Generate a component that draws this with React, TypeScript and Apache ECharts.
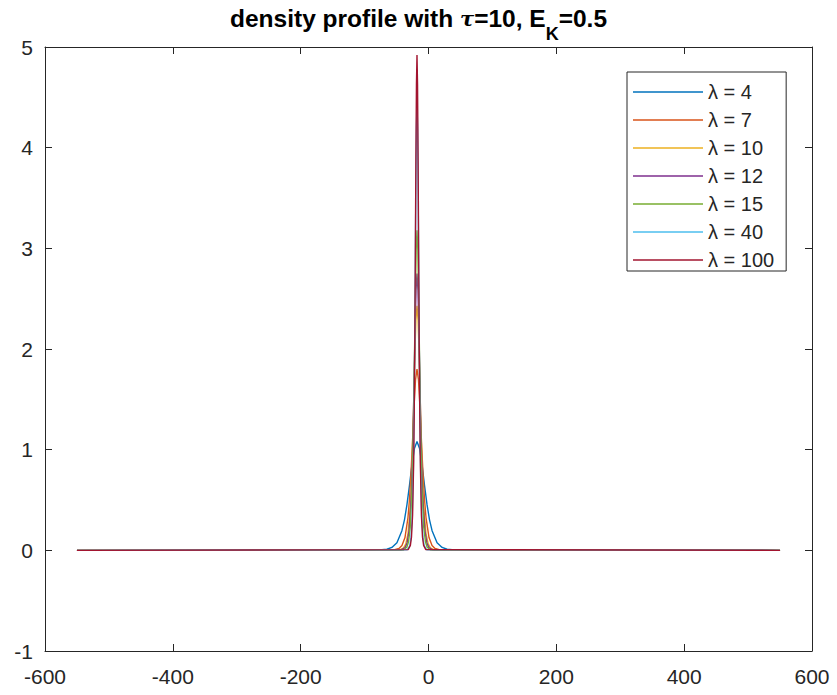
import React, { useEffect, useRef } from 'react';
import * as echarts from 'echarts';

const lambdas = ['4', '7', '10', '12', '15', '40', '100'];
const colors = ['#0072BD', '#D95319', '#EDB120', '#7E2F8E', '#77AC30', '#4DBEEE', '#A2142F'];

const xTicks = { min: -600, max: 600, interval: 200 };
const yTicks = { min: -1, max: 5, interval: 1 };

const x4 = [-550, -80.8, -65.1, -57.3, -49.4, -41.6, -37.6, -33.7, -29.8, -25.9, -21.9, -18, -14.1, -10.1, -6.2, -2.3, 1.6, 5.6, 13.4, 21.3, 29.1, 44.8, 550];
const y4 = [0, 0.001, 0.011, 0.029, 0.076, 0.195, 0.303, 0.454, 0.644, 0.849, 1.015, 1.08, 1.015, 0.849, 0.644, 0.454, 0.303, 0.195, 0.076, 0.029, 0.011, 0.001, 0];

const x7 = [-550, -55.6, -46.2, -41.5, -36.8, -32.1, -29.75, -27.4, -25.05, -22.7, -20.35, -18, -15.65, -13.3, -10.95, -8.6, -6.25, -3.9, 0.8, 5.5, 10.2, 19.6, 550];
const y7 = [0, 0.002, 0.018, 0.048, 0.127, 0.325, 0.505, 0.756, 1.074, 1.416, 1.692, 1.8, 1.692, 1.416, 1.074, 0.756, 0.505, 0.325, 0.127, 0.048, 0.018, 0.002, 0];

const x10 = [-550, -46, -39, -35.5, -32, -28.5, -26.75, -25, -23.25, -21.5, -19.75, -18, -16.25, -14.5, -12.75, -11, -9.25, -7.5, -4, -0.5, 3, 10, 550];
const y10 = [0, 0.003, 0.024, 0.065, 0.172, 0.439, 0.681, 1.021, 1.45, 1.911, 2.284, 2.43, 2.284, 1.911, 1.45, 1.021, 0.681, 0.439, 0.172, 0.065, 0.024, 0.003, 0];

const x12 = [-550, -42.8, -36.6, -33.5, -30.4, -27.3, -25.75, -24.2, -22.65, -21.1, -19.55, -18, -16.45, -14.9, -13.35, -11.8, -10.25, -8.7, -5.6, -2.5, 0.6, 6.8, 550];
const y12 = [0, 0.004, 0.027, 0.073, 0.194, 0.497, 0.771, 1.155, 1.641, 2.163, 2.585, 2.75, 2.585, 2.163, 1.641, 1.155, 0.771, 0.497, 0.194, 0.073, 0.027, 0.004, 0];

const x15 = [-550, -39.2, -33.9, -31.25, -28.6, -25.95, -24.6, -23.3, -22.0, -20.65, -19.3, -18, -16.7, -15.35, -14.0, -12.7, -11.4, -10.05, -7.4, -4.75, -2.1, 3.2, 550];
const y15 = [0, 0.004, 0.031, 0.085, 0.225, 0.575, 0.892, 1.336, 1.897, 2.501, 2.989, 3.18, 2.989, 2.501, 1.897, 1.336, 0.892, 0.575, 0.225, 0.085, 0.031, 0.004, 0];

const x40 = [-550, -33.2, -29.4, -27.5, -25.6, -23.7, -22.75, -21.8, -20.85, -19.9, -18.95, -18, -17.05, -16.1, -15.15, -14.2, -13.25, -12.3, -10.4, -8.5, -6.6, -2.8, 550];
const y40 = [0, 0.006, 0.044, 0.118, 0.315, 0.804, 1.248, 1.869, 2.655, 3.499, 4.183, 4.45, 4.183, 3.499, 2.655, 1.869, 1.248, 0.804, 0.315, 0.118, 0.044, 0.006, 0];

const x100 = [-550, -31.8, -28.35, -26.63, -24.9, -23.18, -22.31, -21.45, -20.59, -19.73, -18.86, -18, -17.14, -16.27, -15.41, -14.55, -13.69, -12.82, -11.1, -9.37, -7.65, -4.2, 550];
const y100 = [0, 0.007, 0.049, 0.131, 0.348, 0.889, 1.38, 2.066, 2.935, 3.869, 4.625, 4.92, 4.625, 3.869, 2.935, 2.066, 1.38, 0.889, 0.348, 0.131, 0.049, 0.007, 0];

const seriesX = [x4, x7, x10, x12, x15, x40, x100];
const seriesY = [y4, y7, y10, y12, y15, y40, y100];

const AX = '#262626';

export default function App() {
  const ref = useRef<HTMLDivElement>(null);
  useEffect(() => {
    if (!ref.current) return;
    const chart = echarts.init(ref.current, undefined, { renderer: 'svg' });
    const names = lambdas.map((l) => `λ = ${l}`);
    const axisCommon = {
      type: 'value' as const,
      axisLine: { show: true, onZero: false, lineStyle: { color: AX, width: 1 } },
      axisTick: { show: true, inside: true, length: 7, lineStyle: { color: AX, width: 1 } },
      splitLine: { show: false },
    };
    chart.setOption({
      animation: false,
      backgroundColor: '#ffffff',
      title: {
        text: '{a|density profile with }{t|τ}{a|=10, E}{s|K}{a|=0.5}',
        left: 'center',
        top: 1,
        textStyle: {
          rich: {
            a: { fontSize: 24.5, fontWeight: 'bold', fontFamily: 'Liberation Sans', color: '#000', padding: [0, 0, 15, 0] },
            t: { fontSize: 21, fontStyle: 'italic', fontFamily: 'DejaVu Serif', color: '#000', padding: [0, 0, 15, 0] },
            s: { fontSize: 18, fontWeight: 'bold', fontFamily: 'Liberation Sans', color: '#000', padding: [15, 0, 0, 0] },
          },
        },
      },
      grid: { left: 45, right: 25, top: 47, bottom: 44, containLabel: false },
      legend: {
        data: names,
        orient: 'vertical',
        left: 627,
        top: 72,
        icon: 'rect',
        itemWidth: 70,
        itemHeight: 1.5,
        itemGap: 8,
        padding: [10, 12, 1, 6],
        borderColor: AX,
        borderWidth: 1,
        backgroundColor: '#ffffff',
        textStyle: { fontSize: 20, color: AX, fontFamily: 'Liberation Sans' },
      },
      xAxis: [
        {
          ...axisCommon,
          position: 'bottom',
          min: xTicks.min,
          max: xTicks.max,
          interval: xTicks.interval,
          axisLabel: { fontSize: 21, color: AX, margin: 15, fontFamily: 'Liberation Sans' },
        },
        {
          ...axisCommon,
          position: 'top',
          min: xTicks.min,
          max: xTicks.max,
          interval: xTicks.interval,
          axisLabel: { show: false },
        },
      ],
      yAxis: [
        {
          ...axisCommon,
          position: 'left',
          min: yTicks.min,
          max: yTicks.max,
          interval: yTicks.interval,
          axisLabel: { fontSize: 21, color: AX, margin: 12, fontFamily: 'Liberation Sans' },
        },
        {
          ...axisCommon,
          position: 'right',
          min: yTicks.min,
          max: yTicks.max,
          interval: yTicks.interval,
          axisLabel: { show: false },
        },
      ],
      series: names.map((name, i) => ({
        name,
        type: 'line',
        xAxisIndex: 0,
        yAxisIndex: 0,
        symbol: 'none',
        showSymbol: false,
        smooth: false,
        color: colors[i],
        lineStyle: { color: colors[i], width: 1.4 },
        data: seriesX[i].map((x, j) => [x, seriesY[i][j]]),
      })),
    });
    return () => chart.dispose();
  }, []);
  return <div ref={ref} style={{ position: 'fixed', left: 0, top: 0, width: 837, height: 695 }} />;
}
